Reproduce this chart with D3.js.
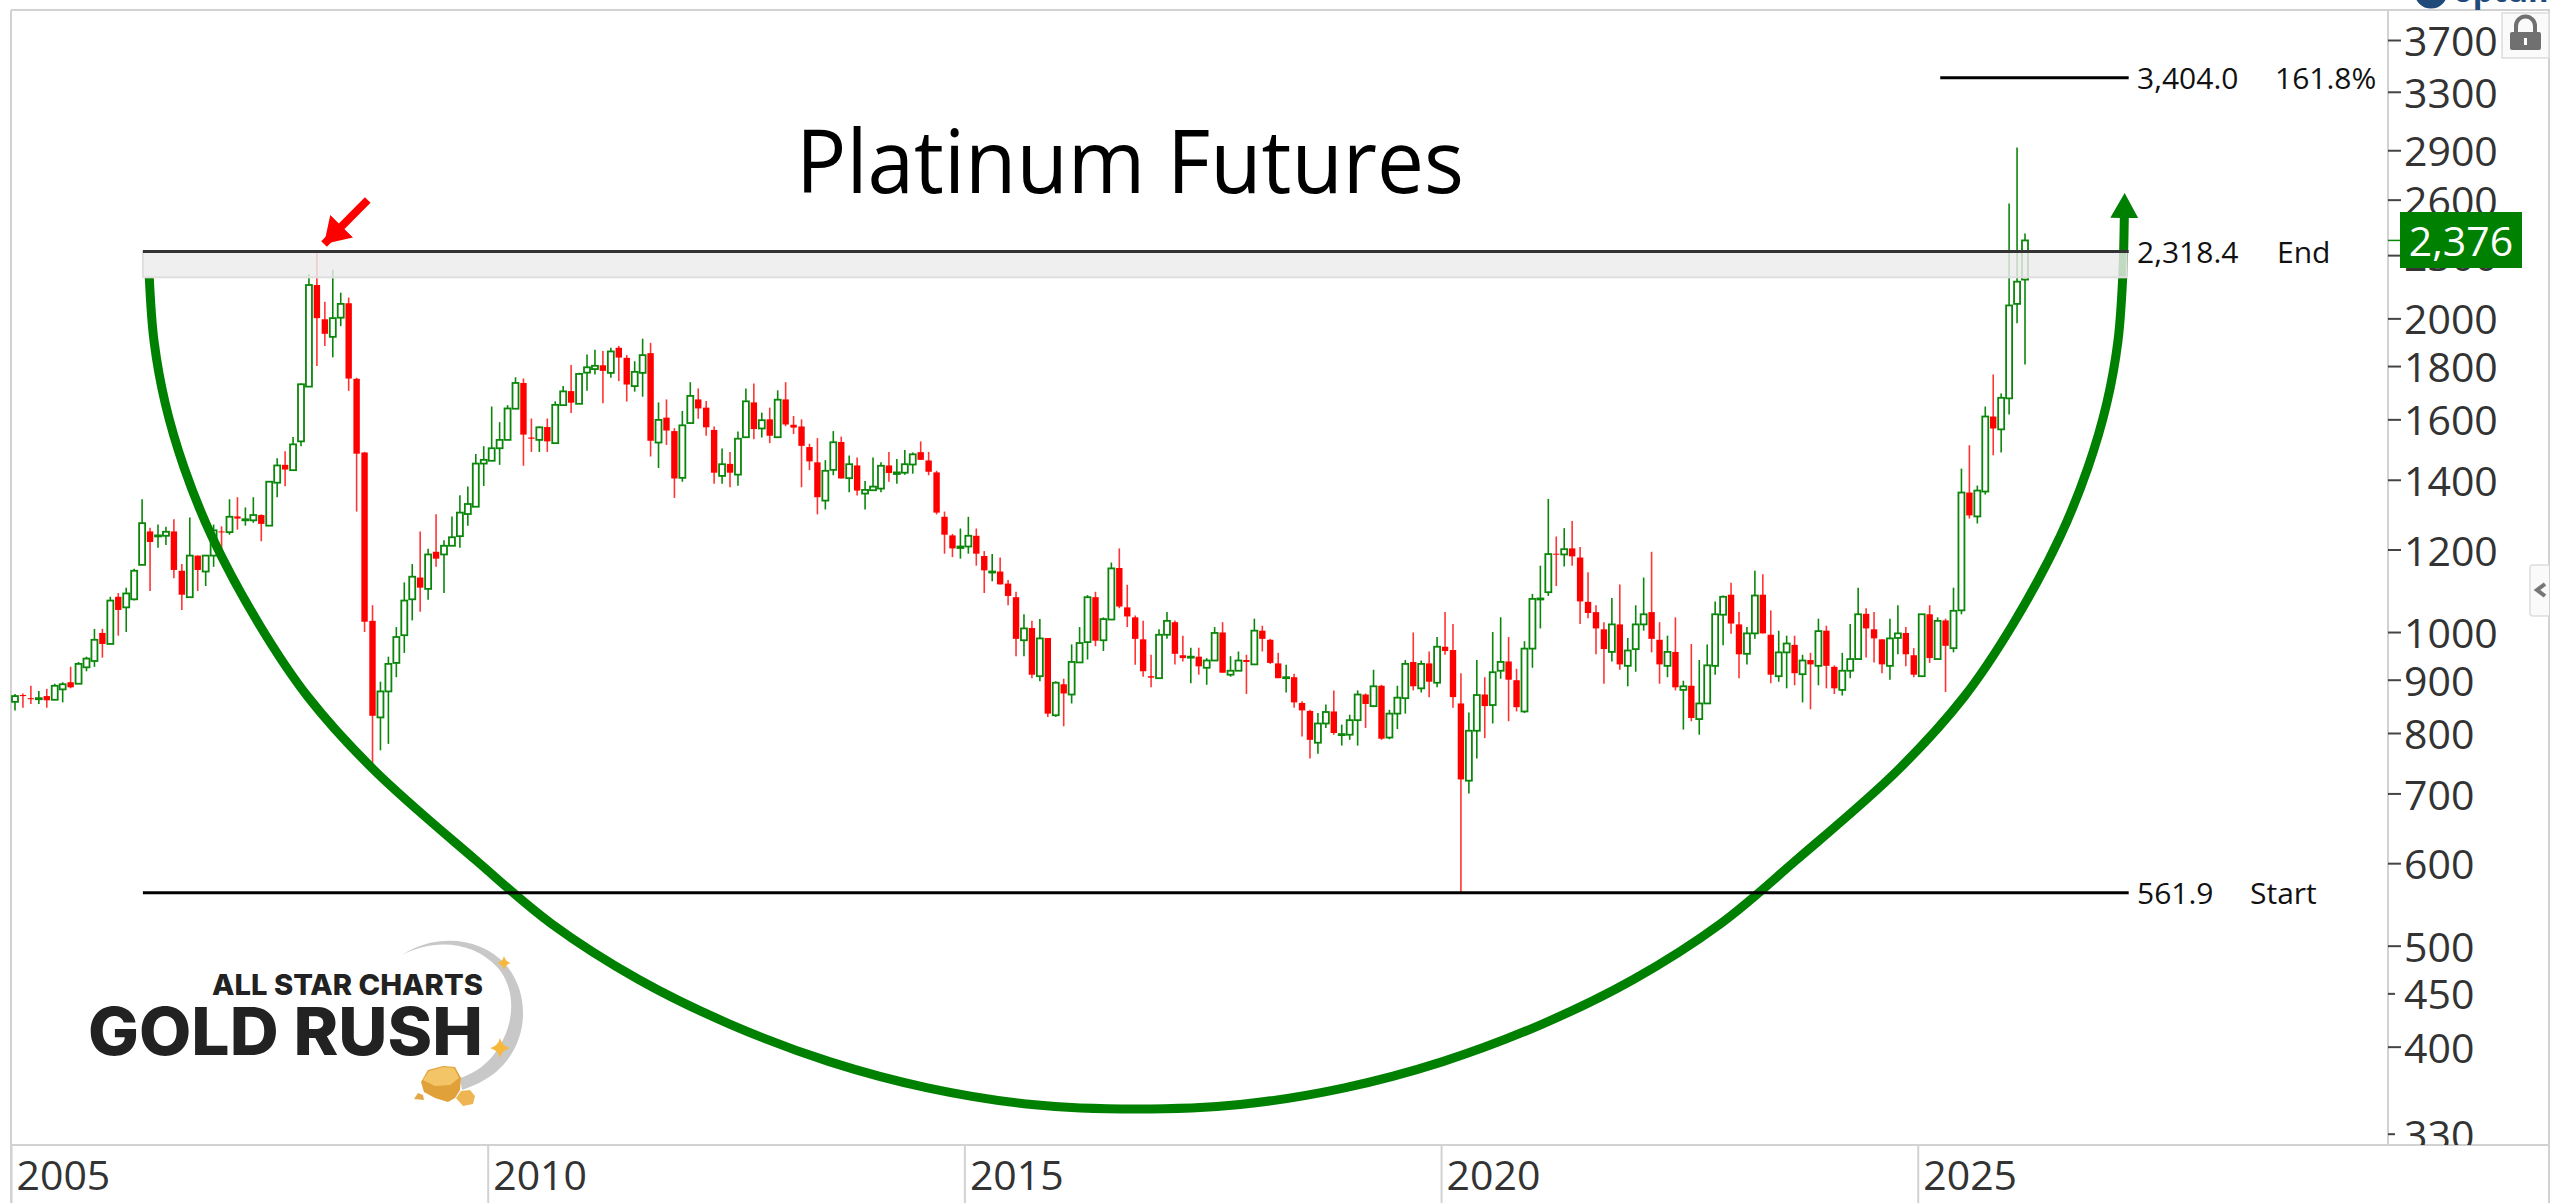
<!DOCTYPE html>
<html><head><meta charset="utf-8">
<script src="https://cdn.jsdelivr.net/npm/d3@7/dist/d3.min.js"></script>
<style>html,body{margin:0;padding:0;background:#fff;overflow:hidden}svg{display:block}text{font-family:"Open Sans",sans-serif}</style>
</head><body><svg id="c" width="2552" height="1203"></svg>
<script>
const chartTitle = "Platinum Futures";
const currentPrice = 2376;
const priceTicks = [3700,3300,2900,2600,2300,2000,1800,1600,1400,1200,1000,900,800,700,600,500,450,400,330];
const yearLabels = [2005,2010,2015,2020,2025];
const yearBars = [0,60,120,180,240];
const fibPrices = [3404.0,2318.4,561.9];
const fibValues = ["3,404.0","2,318.4","561.9"];
const fibNames = ["161.8%","End","Start"];
const zoneLow = 2190;
// Monthly bars, Jan 2005 onward
const opens = [857,870,864,862,868,861,881,895,892,925,
938,998,974,1081,1056,1075,1160,1249,1236,1237,
1249,1145,1080,1184,1143,1184,1249,1247,1291,1280,
1280,1295,1265,1391,1447,1430,1524,1720,2153,1996,
1920,2003,2068,1750,1487,1025,828,877,934,993,
1075,1128,1100,1194,1187,1210,1236,1298,1319,1451,
1460,1501,1529,1638,1734,1537,1529,1573,1518,1651,
1703,1656,1774,1788,1803,1773,1874,1833,1722,1773,
1852,1520,1606,1559,1406,1587,1672,1642,1563,1412,
1450,1416,1538,1661,1568,1600,1538,1672,1581,1575,
1505,1455,1337,1431,1522,1405,1445,1358,1368,1373,
1445,1418,1422,1448,1488,1461,1423,1290,1238,1204,
1208,1237,1183,1141,1143,1113,1080,982,1009,907,
987,832,891,871,935,978,1080,982,1028,1152,
1056,1033,984,907,903,994,1022,950,945,947,
924,939,999,910,918,940,931,1003,983,933,
904,905,855,840,783,817,839,797,797,823,
871,849,888,792,835,864,936,883,933,894,
968,961,854,720,804,871,851,918,937,899,
839,964,1075,1092,1189,1187,1203,1179,1069,1045,
1006,957,1017,928,963,1017,1045,983,928,957,
880,888,825,854,928,1039,1086,1017,953,997,
1086,994,907,956,972,911,940,928,1003,926,
880,918,942,1041,1006,984,928,987,998,950,
907,1040,942,1026,965,1049,1361,1291,1364,1610,
1565,1676,2065,2179];
const highs = [872,873,888,878,882,892,895,926,936,947,
1007,1007,1081,1090,1103,1150,1341,1259,1268,1262,
1283,1162,1288,1184,1184,1268,1263,1341,1347,1317,
1347,1297,1394,1468,1491,1539,1732,2206,2318.4,2075,
2227,2117,2094,1754,1489,1061,896,947,1011,1116,
1162,1249,1202,1297,1225,1291,1353,1379,1482,1508,
1646,1590,1651,1756,1751,1603,1575,1603,1665,1722,
1804,1774,1847,1866,1861,1874,1882,1844,1819,1912,
1895,1661,1672,1569,1630,1737,1713,1666,1575,1500,
1489,1558,1713,1732,1624,1642,1706,1737,1612,1600,
1516,1535,1462,1559,1540,1477,1471,1396,1471,1455,
1489,1466,1495,1487,1524,1489,1428,1305,1242,1257,
1290,1257,1196,1188,1179,1122,1093,1040,1025,1029,
987,897,902,973,1011,1085,1093,1033,1166,1203,
1110,1037,1025,951,1006,1045,1026,992,966,966,
944,1011,1022,948,958,951,1030,1014,985,955,
930,912,858,842,836,852,879,815,833,879,
873,920,890,842,888,940,999,939,958,989,
1045,1018,913,837,940,905,1000,1033,989,922,
980,1088,1158,1342,1235,1258,1278,1207,1141,1061,
1022,1078,1111,987,1061,1128,1194,1022,992,1033,
898,974,940,973,1070,1084,1115,1045,1011,1145,
1136,1049,1003,992,992,951,955,1030,1014,929,
955,1018,1103,1054,1045,984,1030,1061,1011,965,
1040,1061,1033,1030,1103,1435,1511,1382,1646,1767,
1694,2578,2918,2413];
const lows = [841,846,853,853,846,860,856,883,892,917,
926,945,974,992,1000,1072,1160,1095,1205,1212,
1126,1050,1080,1095,1107,1155,1187,1240,1254,1265,
1273,1222,1265,1347,1380,1430,1508,1720,1800,1882,
1835,1966,1704,1305,1000,748,770,781,905,955,
1026,1046,1074,1155,1090,1210,1205,1265,1319,1381,
1460,1447,1529,1638,1444,1489,1489,1489,1518,1651,
1623,1656,1704,1767,1658,1754,1741,1664,1701,1682,
1474,1437,1512,1345,1394,1584,1602,1543,1388,1388,
1377,1382,1538,1531,1537,1518,1538,1576,1549,1377,
1430,1297,1311,1414,1404,1362,1352,1311,1368,1362,
1394,1388,1416,1419,1463,1414,1297,1189,1180,1176,
1189,1158,1090,1119,1111,1061,948,948,903,897,
829,829,812,854,935,941,969,959,1028,1054,
1011,930,906,885,903,985,931,937,893,910,
890,939,914,906,918,872,931,958,932,903,
875,846,794,756,764,809,797,778,788,778,
809,847,788,789,807,835,879,875,866,885,
951,846,561.9,700,756,791,817,902,821,839,
836,924,1008,1083,1107,1156,1158,1018,1031,952,
892,937,920,887,916,1003,956,892,905,879,
806,821,797,854,910,971,996,903,931,985,
997,893,896,883,889,856,843,889,883,872,
869,903,942,945,935,913,900,952,927,905,
907,934,942,876,956,1040,1285,1271,1355,1478,
1487,1617,1979,1806];
const closes = [868,868,862,864,860,888,891,885,932,943,
983,974,1072,1050,1089,1145,1272,1220,1238,1248,
1147,1086,1184,1147,1184,1252,1247,1290,1285,1283,
1295,1270,1394,1445,1432,1514,1729,2153,2001,1933,
2001,2065,1751,1483,1023,831,877,932,989,1072,
1130,1103,1187,1176,1210,1233,1302,1327,1451,1463,
1501,1529,1639,1734,1547,1533,1572,1524,1652,1702,
1660,1769,1795,1801,1781,1859,1834,1728,1777,1844,
1526,1598,1561,1404,1579,1685,1639,1572,1422,1449,
1422,1533,1665,1566,1597,1543,1671,1582,1571,1509,
1458,1347,1428,1521,1404,1449,1367,1369,1379,1444,
1421,1423,1449,1481,1463,1425,1302,1240,1203,1208,
1237,1189,1146,1143,1111,1083,985,1008,910,986,
835,894,873,936,976,1080,981,1029,1151,1058,
1035,985,917,904,994,1025,953,944,947,927,
939,998,914,918,939,936,1003,985,934,903,
905,856,841,788,817,838,800,798,823,871,
853,887,790,835,865,932,887,932,896,968,
959,866,722,804,870,849,915,936,900,847,
964,1076,1077,1188,1187,1201,1182,1070,1043,1008,
963,1017,931,960,1017,1040,985,931,957,885,
887,827,854,929,1040,1081,1019,952,997,1084,
997,910,956,975,913,939,931,1002,928,883,
918,942,1040,1008,986,931,986,997,952,910,
1040,944,1025,970,1048,1361,1294,1367,1610,1568,
1678,2058,2169,2376];
// Hand-drawn cup annotation: bar position and price of points along it
const cupBars = [16.9,17.5,18.9,21.3,24.8,30.7,36.9,45.2,58.0,67.5,78.5,90.1,102.5,115.0,128.0,141.1,154.2,167.2,179.7,192.1,203.7,214.7,224.2,237.0,245.3,251.5,257.4,260.9,263.3,264.7,265.3,265.5];
const cupPrices = [2191,1902,1659,1437,1234,1018,866,737,604,525,464,420,387,365,352,348.5,352,365,387,420,464,525,604,737,866,1018,1234,1437,1659,1902,2191,2502];
const redArrowBars = [44.4,38.9];
const redArrowPrices = [2598,2357];

const x = d3.scaleLinear().domain([0,253]).range([15,2025]);
const y = d3.scaleLog().domain([330,3700]).range([1133.7,40]);
const GREEN="#0a870a", RED="#ff0000", DARKGREEN="#008000";
const svg = d3.select("#c");
const plot = {l:11,t:10,r:2388,b:1145};
const defs = svg.append("defs");
defs.append("clipPath").attr("id","axisClip").append("rect").attr("x",plot.r-2).attr("y",plot.t).attr("width",170).attr("height",plot.b-plot.t);
defs.append("marker").attr("id","gh").attr("markerUnits","userSpaceOnUse").attr("viewBox","0 0 26 28").attr("refX",1).attr("refY",14).attr("markerWidth",26).attr("markerHeight",28).attr("orient","auto")
  .append("path").attr("d","M0,0L25,14L0,28Z").attr("fill",DARKGREEN);
defs.append("marker").attr("id","rh").attr("markerUnits","userSpaceOnUse").attr("viewBox","0 0 26 32").attr("refX",25).attr("refY",16).attr("markerWidth",26).attr("markerHeight",32).attr("orient","auto")
  .append("path").attr("d","M0,0L25,16L0,32Z").attr("fill",RED);

// frame
const frame = svg.append("g").attr("stroke","#d2d2d2").attr("stroke-width",2);
frame.append("line").attr("x1",plot.l).attr("x2",2550).attr("y1",plot.t).attr("y2",plot.t);
frame.append("line").attr("x1",plot.l).attr("x2",plot.l).attr("y1",plot.t).attr("y2",1203);
frame.append("line").attr("x1",plot.l).attr("x2",2550).attr("y1",plot.b).attr("y2",plot.b);
frame.append("line").attr("x1",plot.r).attr("x2",plot.r).attr("y1",plot.t).attr("y2",plot.b);
frame.append("line").attr("x1",2549).attr("x2",2549).attr("y1",plot.t).attr("y2",1203);

// candles
const bars = d3.range(opens.length).map(i=>({i,o:opens[i],h:highs[i],l:lows[i],c:closes[i],up:closes[i]>=opens[i]}));
const candles = svg.append("g");
candles.selectAll("line").data(bars).join("line")
  .attr("x1",d=>x(d.i)).attr("x2",d=>x(d.i)).attr("y1",d=>y(d.h)).attr("y2",d=>y(d.l))
  .attr("stroke",d=>d.up?GREEN:RED).attr("stroke-opacity",d=>d.up?1:.8).attr("stroke-width",1.6);
candles.selectAll("rect").data(bars).join("rect")
  .attr("x",d=>x(d.i)-(d.up?3:3.2)).attr("width",d=>d.up?6:6.4)
  .attr("y",d=>y(Math.max(d.o,d.c))).attr("height",d=>Math.max(1,y(Math.min(d.o,d.c))-y(Math.max(d.o,d.c))))
  .attr("fill",d=>d.up?"#fff":RED).attr("stroke",d=>d.up?GREEN:"none").attr("stroke-width",1.8);

// cup
const cupPts = cupBars.map((b,i)=>[x(b),y(cupPrices[i])]);
svg.append("path").attr("d",d3.line().curve(d3.curveCatmullRom.alpha(.5))(cupPts))
  .attr("fill","none").attr("stroke",DARKGREEN).attr("stroke-width",9).attr("marker-end","url(#gh)");

// zone
const zoneR = x(265.8);
const zoneL = x(16.1);
svg.append("rect").attr("x",zoneL).attr("width",zoneR-zoneL).attr("y",y(fibPrices[1])).attr("height",y(zoneLow)-y(fibPrices[1]))
  .attr("fill","#ebebeb").attr("fill-opacity",.82).attr("stroke","#dedede").attr("stroke-width",2);

// fib lines + labels
const fibStarts = [x(241.7)+5,zoneL,zoneL];
const nameX = [2275,2277,2250];
fibPrices.forEach((p,i)=>{
  svg.append("line").attr("x1",fibStarts[i]).attr("x2",zoneR+2).attr("y1",y(p)).attr("y2",y(p))
    .attr("stroke",i==1?"#333":"#000").attr("stroke-width",3);
  svg.append("text").attr("x",2137).attr("y",y(p)+11).attr("font-size",30).attr("fill","#111").text(fibValues[i]);
  svg.append("text").attr("x",nameX[i]).attr("y",y(p)+11).attr("font-size",30).attr("fill","#111").text(fibNames[i]);
});

// title
svg.append("text").attr("x",796).attr("y",193).attr("font-size",87).attr("fill","#000")
  .attr("textLength",668).attr("lengthAdjust","spacingAndGlyphs").text(chartTitle);

// red arrow
svg.append("path").attr("d",d3.line()(redArrowBars.map((b,i)=>[x(b),y(redArrowPrices[i])])))
  .attr("stroke",RED).attr("stroke-width",8).attr("fill","none").attr("marker-end","url(#rh)");

// axes
const yAxis = d3.axisRight(y).tickValues(priceTicks).tickFormat(d3.format("d")).tickSize(13).tickPadding(3);
const yg = svg.append("g").attr("transform",`translate(${plot.r},0)`).call(yAxis);
yg.select(".domain").remove();
yg.selectAll("line").attr("stroke","#444").attr("stroke-width",2);
yg.selectAll(".tick").filter(d=>d==450||d==330).select("line").attr("x2",7);
yg.selectAll("text").attr("font-size",41).attr("fill","#333").attr("font-family",'"Open Sans",sans-serif').attr("dy","0.38em");
const yClip = svg.append("g").attr("clip-path","url(#axisClip)"); yClip.node().appendChild(yg.node());

const xAxis = d3.axisBottom(x).tickValues(yearBars.map(b=>b-.5)).tickFormat((d,i)=>yearLabels[i]).tickSize(58);
const xg = svg.append("g").attr("transform",`translate(0,${plot.b})`).call(xAxis);
xg.select(".domain").remove();
xg.selectAll("line").attr("stroke","#d2d2d2").attr("stroke-width",2);
xg.selectAll("text").attr("font-size",41).attr("fill","#333").attr("font-family",'"Open Sans",sans-serif')
  .attr("text-anchor","start").attr("x",5).attr("y",8).attr("dy","0.9em");

// price badge
svg.append("line").attr("x1",plot.r).attr("x2",2400).attr("y1",y(currentPrice)).attr("y2",y(currentPrice)).attr("stroke",GREEN).attr("stroke-width",1.5);
svg.append("rect").attr("x",2400).attr("y",212).attr("width",122).attr("height",56).attr("fill",DARKGREEN);
svg.append("text").attr("x",2461).attr("y",256).attr("text-anchor","middle").attr("font-size",41).attr("fill","#fff").text(d3.format(",")(currentPrice));

// lock button
const lock = svg.append("g");
lock.append("rect").attr("x",2502).attr("y",13).attr("width",47).attr("height",45).attr("fill","#fafafa").attr("stroke","#ddd").attr("stroke-width",1.5);
lock.append("path").attr("d","M2516,33v-7a9.5,9.5 0 0 1 19,0v7").attr("fill","none").attr("stroke","#707070").attr("stroke-width",4);
lock.append("rect").attr("x",2510).attr("y",32).attr("width",31).attr("height",18).attr("rx",2).attr("fill","#707070");
lock.append("rect").attr("x",2524).attr("y",38).attr("width",3).attr("height",7).attr("fill","#fff");

// collapse tab
const tab = svg.append("g");
tab.append("path").attr("d","M2549,565h-16a3,3 0 0 0 -3,3v45a3,3 0 0 0 3,3h16").attr("fill","#fafafa").attr("stroke","#ddd").attr("stroke-width",1.5);
tab.append("path").attr("d","M2545,584l-8,6l8,6").attr("fill","none").attr("stroke","#777").attr("stroke-width",4);

// vendor mark, clipped by the picture top
svg.append("circle").attr("cx",2431).attr("cy",-8).attr("r",12).attr("fill","none").attr("stroke","#1f4a7a").attr("stroke-width",9);
svg.append("text").attr("x",2453).attr("y",2).attr("font-size",32).attr("font-weight",700).attr("fill","#1f4a7a").text("optuma");

// logo
const logo = svg.append("g");
logo.append("path").attr("d","M402,955 C432,934 480,935 506,965 C532,996 528,1045 496,1072 C485,1081 473,1086 462,1090 L460,1078 C472,1074 482,1068 491,1058 C515,1030 518,992 498,968 C474,941 434,938 402,955Z").attr("fill","#c8c8c8");
logo.append("text").attr("x",212).attr("y",995).attr("font-size",29).attr("font-weight",800).attr("fill","#222").attr("style","font-family:Inter,sans-serif").attr("textLength",271).attr("lengthAdjust","spacingAndGlyphs").text("ALL STAR CHARTS");
logo.append("text").attr("x",88).attr("y",1055).attr("font-size",66).attr("font-weight",800).attr("fill","#222").attr("style","font-family:Inter,sans-serif").attr("textLength",395).attr("lengthAdjust","spacingAndGlyphs").text("GOLD RUSH");
const star=(cx,cy,r)=>`M${cx},${cy-r}Q${cx+r*.2},${cy-r*.2} ${cx+r},${cy}Q${cx+r*.2},${cy+r*.2} ${cx},${cy+r}Q${cx-r*.2},${cy+r*.2} ${cx-r},${cy}Q${cx-r*.2},${cy-r*.2} ${cx},${cy-r}Z`;
logo.append("path").attr("d",star(504,963,7)).attr("fill","#f5b83d");
logo.append("path").attr("d",star(500,1048,10)).attr("fill","#f5b83d");
logo.append("path").attr("d","M421,1082 L428,1070 L443,1066 L455,1067 L461,1078 L460,1090 L455,1098 L448,1102 L435,1098 L424,1092Z").attr("fill","#e0a03a");
logo.append("path").attr("d","M423,1080 L429,1071 L443,1067 L454,1068 L459,1078 L450,1085 L435,1086Z").attr("fill","#f3c566");
logo.append("path").attr("d","M456,1098 L461,1091 L470,1090 L475,1096 L473,1104 L463,1106Z").attr("fill","#eeb552");
logo.append("path").attr("d","M414,1099 L418,1093 L423,1095 L424,1100Z").attr("fill","#e5a848");
</script></body></html>
